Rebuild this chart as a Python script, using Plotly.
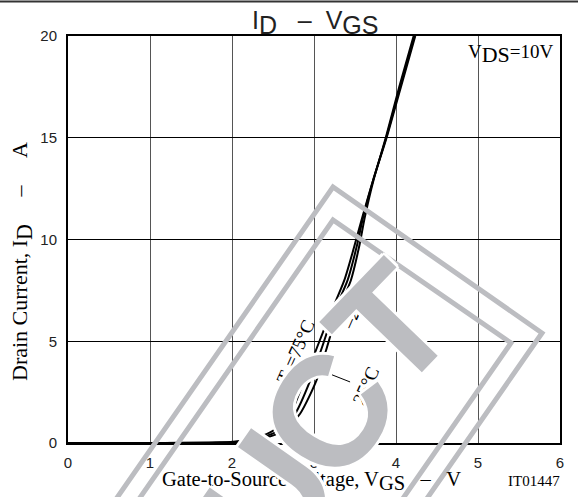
import plotly.graph_objects as go

# ---------------- data ----------------
id_levels = [0.0, 0.0, 0.02, 0.08, 0.28, 0.60, 1.44, 3.08, 4.73, 6.35, 8.00, 9.64, 11.1, 12.9, 15.0, 17.5, 20.0]
vgs_tc75 = [0.0, 1.0, 1.80, 2.05, 2.31, 2.50, 2.71, 2.88, 3.04, 3.20, 3.37, 3.49, 3.59, 3.72, 3.885, 4.06, 4.235]
vgs_tc25 = [0.0, 1.0, 1.85, 2.10, 2.37, 2.56, 2.77, 2.955, 3.10, 3.235, 3.41, 3.52, 3.60, 3.72, 3.88, 4.05, 4.225]
vgs_tcm25 = [0.0, 1.0, 1.90, 2.15, 2.43, 2.63, 2.83, 3.03, 3.16, 3.28, 3.45, 3.55, 3.62, 3.725, 3.875, 4.04, 4.215]
id_tc75 = id_levels
id_tc25 = id_levels
id_tcm25 = id_levels

x_ticks = [0, 1, 2, 3, 4, 5, 6]
y_ticks = [0, 5, 10, 15, 20]

# ---------------- geometry ----------------
W, H = 578, 497
ML, MR, MT, MB = 68, 18, 36, 54
PW = W - ML - MR
PH = H - MT - MB


def px(X):
    return (X - ML) / PW


def py(Y):
    return (H - MB - Y) / PH


def sub(s, pct=143):
    return "<sub><span style='font-size:%d%%'>" % pct + s + "</span></sub>"


NB = "\u00a0"
SERIF = "Liberation Serif"
SANS = "Liberation Sans"
WM = "#bcbdc1"

fig = go.Figure()
for v, i in [(vgs_tc75, id_tc75), (vgs_tc25, id_tc25), (vgs_tcm25, id_tcm25)]:
    fig.add_trace(go.Scatter(x=v, y=i, mode="lines", hoverinfo="skip",
                             line=dict(color="black", width=2, shape="spline", smoothing=0.7)))

fig.update_layout(
    width=W, height=H,
    margin=dict(l=ML, r=MR, t=MT, b=MB),
    paper_bgcolor="white", plot_bgcolor="white",
    showlegend=False,
)
fig.update_xaxes(range=[0, 6], tickvals=x_ticks, ticktext=[str(v) for v in x_ticks],
                 showgrid=True, gridcolor="#555", gridwidth=1,
                 showline=True, linecolor="black", linewidth=2, mirror=True,
                 zeroline=False, ticks="", ticklabelstandoff=5,
                 tickfont=dict(family=SANS, size=15, color="#222"))
fig.update_yaxes(range=[0, 20], tickvals=y_ticks, ticktext=[str(v) for v in y_ticks],
                 showgrid=True, gridcolor="black", gridwidth=1,
                 showline=True, linecolor="black", linewidth=2, mirror=True,
                 zeroline=False, ticks="", ticklabelstandoff=6,
                 tickfont=dict(family=SANS, size=15, color="#222"))

# top page rule
fig.add_shape(type="line", xref="paper", yref="paper", x0=px(0), x1=px(W), y0=py(1.5), y1=py(1.5),
              line=dict(color="#333", width=2))
# leader line for 25°C label
fig.add_shape(type="line", xref="x", yref="y", x0=3.22, y0=3.35, x1=3.44, y1=3.0,
              line=dict(color="black", width=1))

# ---------------- watermark frames ----------------
d = (-0.57, 0.82)
A1, B1 = (333, 187), (542, 333)
A2, B2 = (333, 220), (511, 343)
for A, B, Lleft, Lright in [(A1, B1, 450, 300), (A2, B2, 420, 300)]:
    P0 = (A[0] + d[0] * Lleft, A[1] + d[1] * Lleft)
    P3 = (B[0] + d[0] * Lright, B[1] + d[1] * Lright)
    pts = [P0, A, B, P3]
    path = "M " + " L ".join(f"{px(p[0]):.5f},{py(p[1]):.5f}" for p in pts)
    fig.add_shape(type="path", xref="paper", yref="paper", path=path, layer="above",
                  line=dict(color=WM, width=5))

anns = []


def text_px(X, Y, text, size, family=SERIF, angle=0, xanchor="center", color="black", **kw):
    anns.append(dict(x=px(X), y=py(Y), xref="paper", yref="paper", text=text, showarrow=False,
                     textangle=angle, xanchor=xanchor, yanchor="middle",
                     font=dict(family=family, size=size, color=color), **kw))


# titles
text_px(315, 23, "I" + sub("D") + NB * 3 + "–" + NB * 2 + "V" + sub("GS"), 25, family=SANS, color="#222")
text_px(311, 481, "Gate-to-Source Voltage, V" + sub("GS") + NB * 3 + "–" + NB * 3 + "V", 20.5)
text_px(22, 262, "Drain Current, I" + sub("D") + NB * 5 + "–" + NB * 5 + "A", 22, angle=-90)
text_px(534, 481, "IT01447", 15)
text_px(555, 54, "V" + sub("DS", 165) + "=10V", 19, xanchor="right")

# curve labels
text_px(297, 352, "T" + "<sub>c</sub>" + "=75°C", 19, angle=-66)
text_px(365, 386, "25°C", 19, angle=-66)
text_px(356, 305, "–25°C", 19, angle=-66)

# ---------------- watermark letters (tail of "PRODUCT") ----------------
halo = ", ".join(f"{a}px {b}px 0 white" for a, b in
                 [(3, 0), (-3, 0), (0, 3), (0, -3), (2, 2), (-2, 2), (2, -2), (-2, -2)])
for ch, X, Y, ang in [("U", 268, 498, -55), ("C", 328, 413, -58), ("T", 390, 326, -46)]:
    anns.append(dict(x=px(X), y=py(Y), xref="paper", yref="paper", text=ch,
                     showarrow=False, textangle=ang, xanchor="center", yanchor="middle",
                     font=dict(family=SANS, size=158, color=WM, weight="bold", shadow=halo)))

fig.update_layout(annotations=anns)
fig.write_html("out.html", config={"displayModeBar": False},
               post_script="document.body.style.margin='0';")
